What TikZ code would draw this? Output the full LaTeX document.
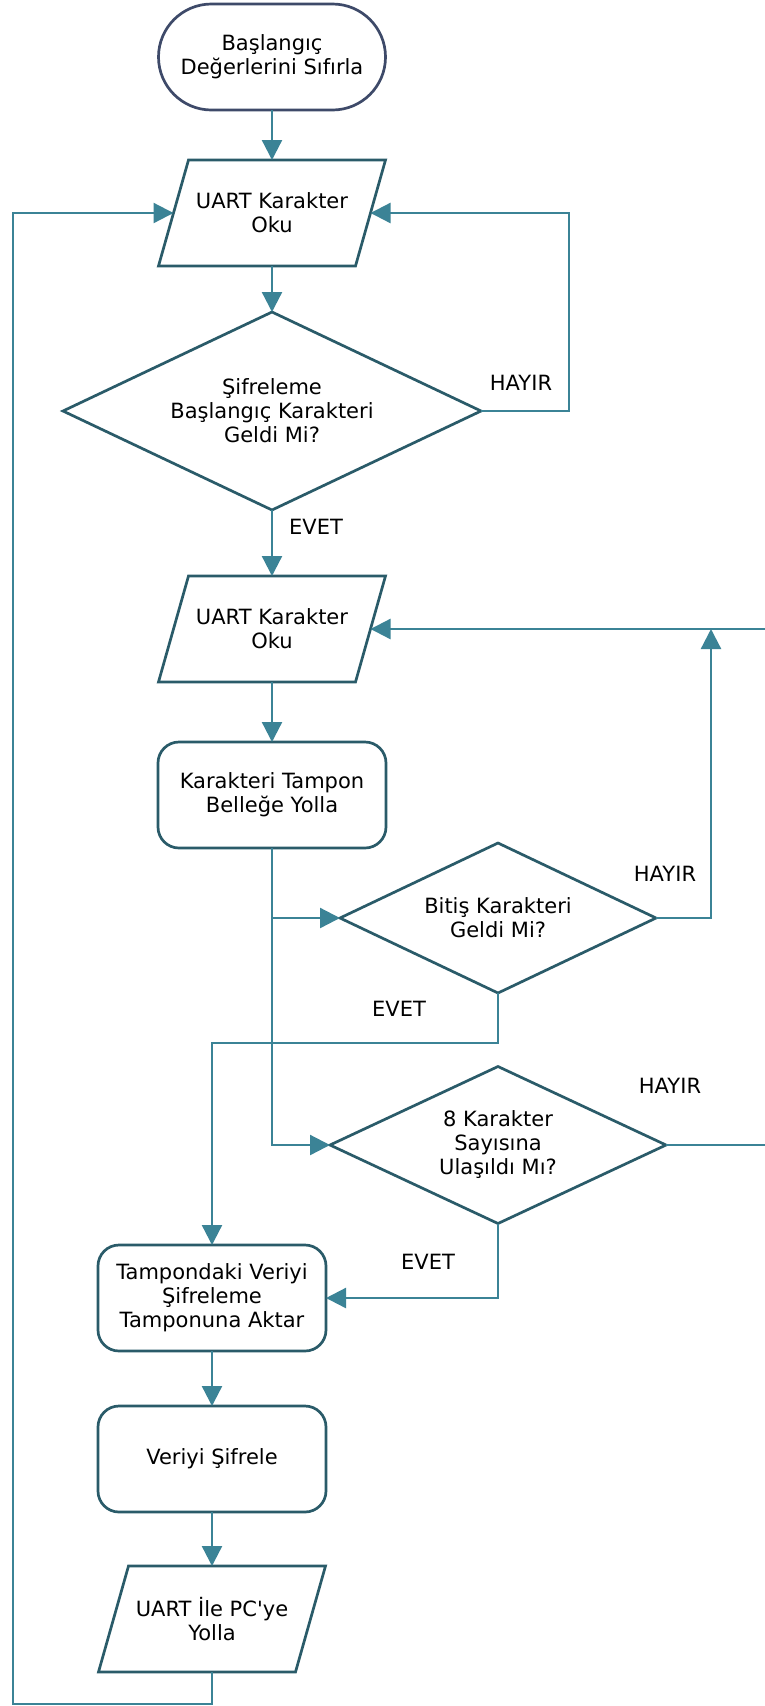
\documentclass[tikz,border=0pt]{standalone}
\usepackage{fontspec}
\newfontfamily\dv{DejaVu Sans}
\usetikzlibrary{shapes.geometric,arrows.meta}
\definecolor{lnc}{HTML}{3B8396}
\definecolor{bdc}{HTML}{2A5B69}
\definecolor{tmc}{HTML}{3E4A69}
\begin{document}
\begin{tikzpicture}[x=1pt,y=-1pt,
  every node/.style={font=\dv\fontsize{21}{24}\selectfont, text=black, outer sep=0pt, inner sep=0pt, align=center},
  term/.style={draw=tmc, line width=2.7pt, rounded corners=53pt, minimum width=227pt, minimum height=106pt},
  para/.style={minimum width=197pt, minimum height=106pt},
  proc/.style={draw=bdc, line width=2.7pt, rounded corners=21pt, minimum width=228pt, minimum height=106pt},
  dia/.style={draw=bdc, line width=2.7pt, diamond, aspect=2.11},
  lab/.style={},
  line/.style={draw=lnc, line width=2.3pt},
  arr/.style={line, -{Triangle[length=20pt,width=20pt]}}]
\useasboundingbox (0,0) rectangle (764,1706);
\fill[white] (0,0) rectangle (764,1706);

\node[term] (t) at (272,57) {Başlangıç\\Değerlerini Sıfırla};
\node[para] (p1) at (272,213) {UART Karakter\\Oku};
\node[dia, minimum width=418pt, minimum height=198pt] (d1) at (272,411) {Şifreleme\\Başlangıç Karakteri\\Geldi Mi?};
\node[para] (p2) at (272,629) {UART Karakter\\Oku};
\node[proc] (r1) at (272,795) {Karakteri Tampon\\Belleğe Yolla};
\node[dia, minimum width=316pt, minimum height=150pt] (d2) at (498,918) {Bitiş Karakteri\\Geldi Mi?};
\node[dia, aspect=2.14, minimum width=336pt, minimum height=157pt] (d3) at (498,1145) {8 Karakter\\Sayısına\\Ulaşıldı Mı?};
\node[proc] (r2) at (212,1298) {Tampondaki Veriyi\\Şifreleme\\Tamponuna Aktar};
\node[proc] (r3) at (212,1459) {Veriyi Şifrele};
\node[para] (p3) at (212,1619) {UART İle PC'ye\\Yolla};

\foreach \n in {p1,p2,p3}
  \draw[bdc, line width=2.7pt] ([xshift=-15pt]\n.south west) -- ([xshift=-15pt]\n.south east)
     -- ([xshift=15pt]\n.north east) -- ([xshift=15pt]\n.north west) -- cycle;

\node[lab] (h1) at (521,383) {HAYIR};
\node[lab] (e1) at (316,527) {EVET};
\node[lab] (h2) at (665,874) {HAYIR};
\node[lab] (e2) at (399,1009) {EVET};
\node[lab] (h3) at (670,1086) {HAYIR};
\node[lab] (e3) at (428,1262) {EVET};

\coordinate (c1) at (569,213);
\coordinate (c2) at (711,629);
\coordinate (c3) at (767,1145);
\coordinate (c4) at (498,1043);
\coordinate (c5) at (13,1704);

\draw[arr] (t.south) -- (p1.north);
\draw[arr] (p1.south) -- (d1.north);
\draw[arr] (d1.east) -| (c1) -- (p1.east);
\draw[arr] (d1.south) -- (p2.north);
\draw[arr] (p2.south) -- (r1.north);
\draw[arr] (r1.south) |- (d3.west);
\draw[arr] (r1.south |- d2.west) -- (d2.west);
\draw[arr] (d2.east) -| (c2);
\draw[arr] (d3.east) -- (c3) -- (c3 |- p2.east) -- (p2.east);
\draw[arr] (d2.south) -- (c4) -| (r2.north);
\draw[arr] (d3.south) |- (r2.east);
\draw[arr] (r2.south) -- (r3.north);
\draw[arr] (r3.south) -- (p3.north);
\draw[arr] (p3.south) -- (p3.south |- c5) -- (c5) |- (p1.west);
\end{tikzpicture}
\end{document}
